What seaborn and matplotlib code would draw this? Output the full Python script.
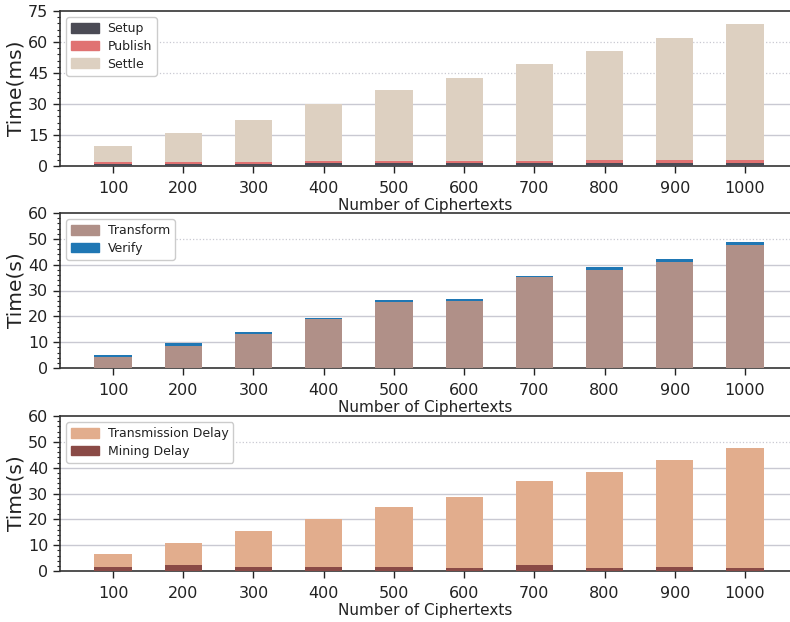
import numpy as np
import matplotlib
matplotlib.use("Agg")
import matplotlib.pyplot as plt
from matplotlib.patches import Patch
from matplotlib.ticker import MultipleLocator, AutoMinorLocator
import seaborn as sns

categories = ["100", "200", "300", "400", "500", "600", "700", "800", "900", "1000"]

# Panel 1 (ms), stacked segments
setup = [1.2, 1.2, 1.2, 1.3, 1.3, 1.3, 1.5, 1.6, 1.6, 1.6]
publish = [0.8, 0.9, 0.8, 1.1, 1.1, 1.0, 0.9, 1.3, 1.3, 1.3]
settle = [7.8, 13.9, 20.3, 27.4, 34.4, 40.4, 47.1, 52.7, 58.9, 65.6]

# Panel 2 (s), stacked segments
transform = [4.1, 8.6, 13.0, 18.8, 25.6, 26.0, 35.2, 38.1, 41.2, 47.8]
verify = [0.8, 1.0, 0.9, 0.6, 0.9, 0.8, 0.5, 0.9, 0.9, 0.9]

# Panel 3 (s), overlaid from zero
transmission = [6.4, 11.0, 15.4, 20.1, 24.8, 28.8, 35.0, 38.2, 43.1, 47.5]
mining = [1.7, 2.2, 1.7, 1.7, 1.7, 1.2, 2.4, 1.2, 1.7, 1.2]

C_SETUP = "#4b4b55"
C_PUBLISH = "#e07272"
C_SETTLE = "#ddd0c1"
C_TRANSFORM = "#b09088"
C_VERIFY = "#1f77b4"
C_TRANS = "#e2ad8d"
C_MINING = "#8a4a46"

sns.set_theme(style="white")
plt.rcParams["font.family"] = ["DejaVu Sans"]
plt.rcParams["text.color"] = "#222222"
plt.rcParams["axes.labelcolor"] = "#222222"
plt.rcParams["xtick.color"] = "#222222"
plt.rcParams["ytick.color"] = "#222222"

fig = plt.figure(figsize=(7.9, 6.22), dpi=100)
L, W = 60 / 790, 730 / 790
def rect(top_px, bot_px):
    return [L, 1 - bot_px / 622, W, (bot_px - top_px) / 622]

ax1 = fig.add_axes(rect(11, 166))
ax2 = fig.add_axes(rect(213, 368))
ax3 = fig.add_axes(rect(416, 571))

BW = 0.53

def bars(ax, vals, color):
    sns.barplot(x=categories, y=vals, color=color, saturation=1, width=BW,
                ax=ax, zorder=3, linewidth=0)

# Panel 1: stacked via cumulative totals drawn back-to-front
s1 = np.array(setup)
s2 = s1 + np.array(publish)
s3 = s2 + np.array(settle)
bars(ax1, s3, C_SETTLE)
bars(ax1, s2, C_PUBLISH)
bars(ax1, s1, C_SETUP)

# Panel 2
t1 = np.array(transform)
t2 = t1 + np.array(verify)
bars(ax2, t2, C_VERIFY)
bars(ax2, t1, C_TRANSFORM)

# Panel 3
bars(ax3, transmission, C_TRANS)
bars(ax3, mining, C_MINING)

def style(ax, ymax, step, ylabel, dotted_above):
    ax.set_xlim(-0.755, 9.64)
    ax.set_ylim(0, ymax)
    ax.yaxis.set_major_locator(MultipleLocator(step))
    ax.yaxis.set_minor_locator(AutoMinorLocator(5))
    ax.set_ylabel(ylabel, fontsize=14.5, labelpad=2)
    ax.set_xlabel("Number of Ciphertexts", fontsize=11, labelpad=1)
    ax.tick_params(axis="both", which="major", labelsize=11.5, length=5,
                   width=1, direction="out", left=True, bottom=True)
    ax.tick_params(axis="y", which="minor", length=2.5, width=0.8, left=True)
    ax.tick_params(axis="x", which="major", pad=6)
    for s in ["left", "bottom", "top"]:
        ax.spines[s].set_visible(True)
        ax.spines[s].set_color("#333333")
        ax.spines[s].set_linewidth(1.2)
    ax.spines["right"].set_visible(False)
    ax.yaxis.grid(True, which="major", color="#c9c9d2", linewidth=1.0, zorder=0)
    ax.set_axisbelow(True)
    for tickval, gl in zip(ax.get_yticks(), ax.get_ygridlines()):
        if tickval >= dotted_above:
            gl.set_linestyle(":")
            gl.set_linewidth(0.9)
        if tickval <= 0 or tickval >= ymax:
            gl.set_visible(False)

style(ax1, 75, 15, "Time(ms)", 45)
style(ax2, 60, 10, "Time(s)", 50)
style(ax3, 60, 10, "Time(s)", 50)

leg_kw = dict(loc="upper left", fontsize=9, frameon=True, fancybox=True,
              edgecolor="#cccccc", framealpha=1, handlelength=2.2,
              handleheight=0.8, handletextpad=0.7, borderpad=0.4,
              labelspacing=0.37, borderaxespad=0.5)
ax1.legend(handles=[Patch(color=C_SETUP, label="Setup"),
                    Patch(color=C_PUBLISH, label="Publish"),
                    Patch(color=C_SETTLE, label="Settle")], **leg_kw)
ax2.legend(handles=[Patch(color=C_TRANSFORM, label="Transform"),
                    Patch(color=C_VERIFY, label="Verify")], **leg_kw)
ax3.legend(handles=[Patch(color=C_TRANS, label="Transmission Delay"),
                    Patch(color=C_MINING, label="Mining Delay")], **leg_kw)

fig.savefig("out.png", dpi=100)
